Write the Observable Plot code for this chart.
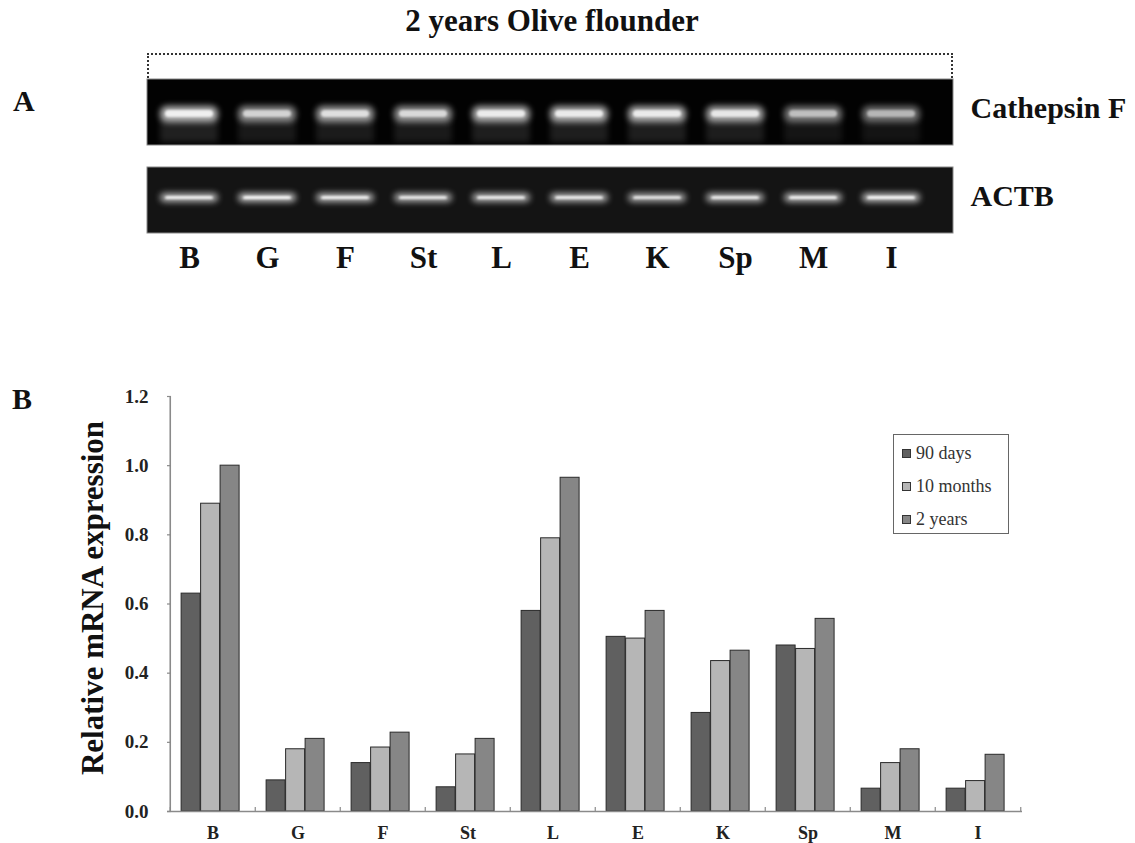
<!DOCTYPE html>
<html>
<head>
<meta charset="utf-8">
<script src="https://cdn.jsdelivr.net/npm/d3@7"></script>
<script src="https://cdn.jsdelivr.net/npm/@observablehq/plot@0.6"></script>
<style>
  html, body { margin: 0; padding: 0; background: #fff; }
  #page { position: relative; width: 1135px; height: 843px; overflow: hidden; font-family: "Liberation Serif", "DejaVu Serif", serif; }
  #page > * { position: absolute; }
  .panel { font-weight: bold; font-size: 30px; line-height: 1.15; color: #111; }
  #title { left: 302px; top: 3px; width: 500px; text-align: center; font-weight: bold; font-size: 31px; line-height: 1.15; color: #111; }
  #bracket { left: 147px; top: 53px; width: 806px; height: 25px; border-top: 2px dotted #333; border-left: 2px dotted #333; border-right: 2px dotted #333; box-sizing: border-box; }
  #legend { left: 893px; top: 434px; width: 116px; height: 100px; border: 1.5px solid #666; box-sizing: border-box; background: #fff; padding-top: 2px; }
  .item { display: flex; align-items: center; height: 33px; padding-left: 8px; font-size: 18px; color: #333; white-space: nowrap; }
  .sw { width: 7px; height: 7px; border: 1px solid #333; margin-right: 5px; flex: none; }
</style>
</head>
<body>
<div id="page">
  <div id="plotA" style="left:0;top:0;"></div>
  <div id="plotB" style="left:0;top:380px;"></div>
  <div id="title">2 years Olive flounder</div>
  <div id="bracket"></div>
  <div class="panel" style="left:13px;top:84px;">A</div>
  <div class="panel" style="left:12px;top:382px;">B</div>
  <div id="legend"></div>
</div>
<script>
// ---------- Panel A data (gel image) ----------
const lanes = ["B", "G", "F", "St", "L", "E", "K", "Sp", "M", "I"];
const genes = ["Cathepsin F", "ACTB"];
const cathepsinIntensity = [1.0, 0.78, 0.86, 0.82, 0.96, 0.95, 0.95, 0.92, 0.66, 0.62];
const actbIntensity = [0.95, 1.0, 0.95, 0.9, 0.92, 0.92, 0.86, 0.92, 0.95, 1.0];

// ---------- Panel B data (bar chart) ----------
const tissues = ["B", "G", "F", "St", "L", "E", "K", "Sp", "M", "I"];
const seriesNames = ["90 days", "10 months", "2 years"];
const days90   = [0.63, 0.09, 0.14, 0.07, 0.58, 0.505, 0.285, 0.48, 0.066, 0.066];
const months10 = [0.89, 0.18, 0.185, 0.165, 0.79, 0.50, 0.435, 0.47, 0.14, 0.088];
const years2   = [1.0, 0.21, 0.228, 0.21, 0.965, 0.58, 0.465, 0.557, 0.18, 0.164];
const seriesColors = ["#606060", "#b6b6b6", "#868686"];
const yTicks = [0, 0.2, 0.4, 0.6, 0.8, 1.0, 1.2];
const yLabel = "Relative mRNA expression";

const serif = "Liberation Serif";

// ---------- Panel A ----------
const cath = lanes.map((l, i) => ({lane: l, gene: genes[0], intensity: cathepsinIntensity[i]}));
const actb = lanes.map((l, i) => ({lane: l, gene: genes[1], intensity: actbIntensity[i]}));

const plotA = Plot.plot({
  width: 1135, height: 290,
  marginLeft: 147, marginRight: 182, marginTop: 78, marginBottom: 57,
  x: {type: "band", domain: lanes, padding: 0, range: [149, 931]},
  y: {type: "band", domain: genes, paddingInner: 0.25, paddingOuter: 0, axis: null},
  marks: [
    Plot.cell([genes[0]], {y: d => d, fill: "#020202", stroke: "#888", strokeWidth: 1}),
    Plot.cell([genes[1]], {y: d => d, fill: "#141414", stroke: "#888", strokeWidth: 1}),
    // faint smear below cathepsin bands
    Plot.cell(cath, {x: "lane", y: "gene", fill: "#fff", fillOpacity: d => d.intensity * 0.12,
      insetTop: 40, insetBottom: 3, insetLeft: 10, insetRight: 10, ariaDescription: "glow"}),
    // glow halos
    Plot.cell(cath, {x: "lane", y: "gene", fill: "#fff", fillOpacity: d => d.intensity * 0.7,
      insetTop: 27, insetBottom: 23, insetLeft: 10, insetRight: 10, rx: 7, ariaDescription: "glow"}),
    Plot.cell(actb, {x: "lane", y: "gene", fill: "#fff", fillOpacity: d => d.intensity * 0.7,
      insetTop: 26, insetBottom: 31, insetLeft: 10, insetRight: 10, rx: 5, ariaDescription: "glow"}),
    // bright cores
    Plot.cell(cath, {x: "lane", y: "gene", fill: "#fff", fillOpacity: d => d.intensity * 0.8,
      insetTop: 31, insetBottom: 28, insetLeft: 15, insetRight: 15, rx: 4, ariaDescription: "core"}),
    Plot.cell(actb, {x: "lane", y: "gene", fill: "#fff", fillOpacity: d => d.intensity * 0.9,
      insetTop: 29, insetBottom: 34, insetLeft: 15, insetRight: 15, rx: 3, ariaDescription: "core"}),
    Plot.axisX({tickSize: 0, tickPadding: 12, fontSize: 31, fontWeight: "bold", fontFamily: serif, label: null, color: "#111"}),
    Plot.text(genes, {y: d => d, frameAnchor: "right", textAnchor: "start", dx: 17, dy: -4, fontSize: 30, fontWeight: "bold", fontFamily: serif, fill: "#111"})
  ]
});
d3.select(plotA).selectAll('g[aria-description="glow"]').style("filter", "blur(3px)");
d3.select(plotA).selectAll('g[aria-description="core"]').style("filter", "blur(1.2px)");
document.getElementById("plotA").appendChild(plotA);

// ---------- Panel B ----------
const W = 1135, H = 463, mL = 167, mR = 113, mT = 16, mB = 32;
const frameW = W - mL - mR, frameH = H - mT - mB;
const step = frameW / tissues.length;
const bar = step * 0.228;
const start = step * 0.13;
const values = [days90, months10, years2];

const barMarks = values.map((vals, s) =>
  Plot.barY(tissues, {
    x: d => d, y: (d, i) => vals[i],
    fill: seriesColors[s], stroke: "#2a2a2a", strokeWidth: 1,
    insetLeft: start + s * bar, insetRight: step - start - (s + 1) * bar
  })
);

const plotB = Plot.plot({
  width: W, height: H,
  marginLeft: mL, marginRight: mR, marginTop: mT, marginBottom: mB,
  x: {type: "band", domain: tissues, padding: 0},
  y: {domain: [0, 1.2]},
  marks: [
    ...barMarks,
    Plot.ruleY([0], {stroke: "#8a8a8a", strokeWidth: 1.6}),
    Plot.ruleX([tissues[0]], {x: d => d, dx: -step / 2, stroke: "#8a8a8a", strokeWidth: 1.6}),
    // small inward ticks on the y axis
    Plot.ruleY(yTicks, {insetRight: frameW - 4, stroke: "#8a8a8a", strokeWidth: 1.2}),
    // small inward ticks between categories
    Plot.ruleX(tissues, {x: d => d, dx: -step / 2, insetTop: frameH - 4, stroke: "#8a8a8a", strokeWidth: 1.2}),
    Plot.ruleX([tissues[tissues.length - 1]], {x: d => d, dx: step / 2, insetTop: frameH - 4, stroke: "#8a8a8a", strokeWidth: 1.2}),
    Plot.axisY({ticks: yTicks, tickFormat: d3.format(".1f"), tickSize: 0, tickPadding: 19, fontSize: 19, fontWeight: "bold", fontFamily: serif, label: null, color: "#222"}),
    Plot.axisX({tickSize: 0, tickPadding: 15, fontSize: 18, fontWeight: "bold", fontFamily: serif, label: null, color: "#222"}),
    Plot.text([yLabel], {frameAnchor: "left", textAnchor: "middle", rotate: -90, dx: -74, dy: -6, fontSize: 31, fontWeight: "bold", fontFamily: serif, fill: "#111"})
  ]
});
document.getElementById("plotB").appendChild(plotB);

// ---------- Legend ----------
const legend = d3.select("#legend");
seriesNames.forEach((name, i) => {
  const it = legend.append("div").attr("class", "item");
  it.append("div").attr("class", "sw").style("background", seriesColors[i]);
  it.append("span").text(name);
});
</script>
</body>
</html>
